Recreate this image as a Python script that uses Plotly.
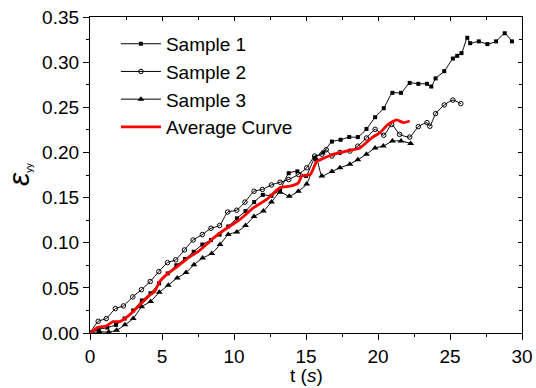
import plotly.graph_objects as go

# Sample 1 (filled squares)
t1 = [0, 0.6, 1.2, 1.8, 2.4, 3.0, 3.6, 4.2, 4.8, 5.4, 6.0, 6.6, 7.2, 7.8, 8.4, 9.0, 9.6,
      10.2, 10.8, 11.4, 12.0, 12.6, 13.2, 13.8, 14.4, 15.0, 15.6, 16.2, 16.8, 17.4, 18.0,
      18.6, 19.2, 19.8, 20.4, 21.0, 21.6, 22.2, 22.8, 23.4, 23.7, 24.0, 24.6, 25.2, 25.5,
      25.8, 26.2, 26.4, 27.0, 27.6, 28.2, 28.8, 29.3]
s1 = [0, 0.004, 0.006, 0.009, 0.016, 0.025, 0.036, 0.044, 0.055, 0.066, 0.075, 0.082,
      0.090, 0.098, 0.103, 0.109, 0.118, 0.127, 0.135, 0.145, 0.153, 0.152, 0.159, 0.177,
      0.179, 0.174, 0.194, 0.200, 0.212, 0.214, 0.217, 0.217, 0.226, 0.239, 0.249, 0.266,
      0.266, 0.277, 0.276, 0.276, 0.273, 0.282, 0.290, 0.304, 0.307, 0.310, 0.327, 0.321,
      0.323, 0.320, 0.323, 0.332, 0.323]

# Sample 2 (open circles)
t2 = [0, 0.57, 1.13, 1.76, 2.32, 2.97, 3.57, 4.18, 4.78, 5.38, 5.95, 6.56, 7.16, 7.8,
      8.4, 9.0, 9.56, 10.19, 10.76, 11.39, 11.97, 12.6, 13.2, 13.8, 14.47, 15.05, 15.6,
      16.1, 16.4, 16.8, 17.36, 18.05, 18.6, 19.2, 19.8, 20.4, 20.95, 21.5, 22.2, 22.8,
      23.4, 23.6, 24.0, 24.6, 25.2, 25.75]
s2 = [0, 0.013, 0.016, 0.027, 0.030, 0.040, 0.048, 0.057, 0.068, 0.078, 0.081, 0.092,
      0.103, 0.109, 0.116, 0.119, 0.134, 0.136, 0.145, 0.157, 0.159, 0.164, 0.167, 0.170,
      0.1756, 0.183, 0.196, 0.198, 0.203, 0.196, 0.200, 0.2015, 0.207, 0.216, 0.2256,
      0.219, 0.231, 0.220, 0.217, 0.2286, 0.233, 0.229, 0.243, 0.2526, 0.258, 0.254]

# Sample 3 (filled triangles)
t3 = [0, 0.65, 1.3, 1.85, 2.43, 3.0, 3.59, 4.21, 4.81, 5.44, 6.06, 6.67, 7.22, 7.82,
      8.45, 9.03, 9.6, 10.2, 10.8, 11.39, 12.04, 12.6, 13.2, 13.84, 14.47, 15.05, 15.75,
      16.1, 16.8, 17.36, 18.05, 18.6, 19.2, 19.8, 20.37, 21.0, 21.6, 22.27]
s3 = [0, 0.0015, 0.001, 0.003, 0.009, 0.016, 0.029, 0.035, 0.045, 0.053, 0.061, 0.067,
      0.0756, 0.083, 0.088, 0.098, 0.109, 0.112, 0.119, 0.129, 0.135, 0.145, 0.156,
      0.1515, 0.157, 0.165, 0.192, 0.174, 0.179, 0.183, 0.187, 0.192, 0.198, 0.205,
      0.207, 0.2126, 0.2126, 0.210]

# Average curve
ta = [0, 0.56, 1.13, 1.6, 2.06, 2.75, 3.45, 4.14, 4.49, 4.84, 5.42, 6.1, 6.8, 7.5, 8.2,
      8.56, 9.49, 10.4, 11.34, 12.27, 13.2, 13.9, 14.47, 14.7, 15.3, 15.74, 16.0, 16.9,
      17.8, 18.75, 19.56, 20.14, 20.7, 21.3, 21.76, 22.2]
sa = [0, 0.0063, 0.0078, 0.0126, 0.0126, 0.020, 0.031, 0.042, 0.046, 0.057, 0.066,
      0.074, 0.083, 0.090, 0.0996, 0.105, 0.116, 0.1256, 0.1385, 0.148, 0.161, 0.1626,
      0.1663, 0.1737, 0.1756, 0.190, 0.192, 0.198, 0.2015, 0.205, 0.216, 0.222, 0.231,
      0.236, 0.233, 0.2348]

x_ticks = [0, 5, 10, 15, 20, 25, 30]
y_ticks = [0.00, 0.05, 0.10, 0.15, 0.20, 0.25, 0.30, 0.35]
y_tick_text = ["%.2f" % v for v in y_ticks]

FONT = "Liberation Sans, Arial, sans-serif"

fig = go.Figure()
fig.add_trace(go.Scatter(x=t1, y=s1, mode="lines+markers", name="Sample 1",
                         line=dict(color="black", width=1, shape="spline", smoothing=0.5),
                         marker=dict(symbol="square", size=4, color="black")))
fig.add_trace(go.Scatter(x=t2, y=s2, mode="lines+markers", name="Sample 2",
                         line=dict(color="black", width=1, shape="spline", smoothing=0.5),
                         marker=dict(symbol="circle-open", size=4.5, color="black",
                                     line=dict(width=1))))
fig.add_trace(go.Scatter(x=t3, y=s3, mode="lines+markers", name="Sample 3",
                         line=dict(color="black", width=1, shape="spline", smoothing=0.5),
                         marker=dict(symbol="triangle-up", size=6, color="black")))
fig.add_trace(go.Scatter(x=ta, y=sa, mode="lines", name="Average Curve",
                         line=dict(color="#ff0000", width=2.8, shape="spline", smoothing=0.5)))
fig.add_trace(go.Scatter(x=[], y=[], xaxis="x2", yaxis="y2", showlegend=False,
                         hoverinfo="skip"))

axis_common = dict(showgrid=False, zeroline=False, showline=True, linecolor="black",
                   linewidth=1.3, automargin=False)

fig.update_layout(
    width=536, height=388, autosize=False,
    margin=dict(l=90, r=14, t=17, b=55, autoexpand=False),
    paper_bgcolor="white", plot_bgcolor="white",
    font=dict(family=FONT, size=19, color="black"),
    showlegend=True,
    legend=dict(x=0.06, y=0.975, xanchor="left", yanchor="top",
                bgcolor="rgba(0,0,0,0)", font=dict(size=19, family=FONT),
                itemwidth=40, tracegroupgap=0),
    xaxis=dict(range=[0, 30], tickvals=x_ticks, ticks="outside", ticklen=6, tickwidth=1,
               tickcolor="black", minor=dict(ticks="outside", ticklen=3, dtick=2.5,
                                             tickcolor="black"),
               tickfont=dict(size=19), **axis_common),
    yaxis=dict(range=[0, 0.35], tickvals=y_ticks, ticktext=y_tick_text, ticks="outside",
               ticklen=6, tickwidth=1, tickcolor="black",
               minor=dict(ticks="outside", ticklen=3, dtick=0.025, tickcolor="black"),
               tickfont=dict(size=19), **axis_common),
    xaxis2=dict(range=[0, 30], overlaying="x", side="top", anchor="y2",
                tickvals=x_ticks, ticks="inside", ticklen=4, tickcolor="black",
                minor=dict(ticks="inside", ticklen=3, dtick=2.5, tickcolor="black"),
                showticklabels=False, **axis_common),
    yaxis2=dict(range=[0, 0.35], overlaying="y", side="right", anchor="x2",
                tickvals=y_ticks, ticks="inside", ticklen=4, tickcolor="black",
                minor=dict(ticks="inside", ticklen=3, dtick=0.025, tickcolor="black"),
                showticklabels=False, **axis_common),
    annotations=[
        dict(text="t (<i>s</i>)", xref="paper", yref="paper", x=0.5, y=0,
             yshift=-42, xanchor="center", yanchor="middle", showarrow=False,
             font=dict(size=19, family=FONT)),
        dict(text="<span style='font-size:30px'><i>ε</i></span><sub>yy</sub>",
             xref="paper", yref="paper", x=0, y=0.5, xshift=-72, textangle=-90,
             xanchor="center", yanchor="middle", showarrow=False,
             font=dict(size=14, family=FONT)),
    ],
)

fig.write_html("out.html",
               config=dict(displayModeBar=False, responsive=False),
               post_script="document.body.style.margin='0';"
                           "document.body.style.overflow='hidden';")
